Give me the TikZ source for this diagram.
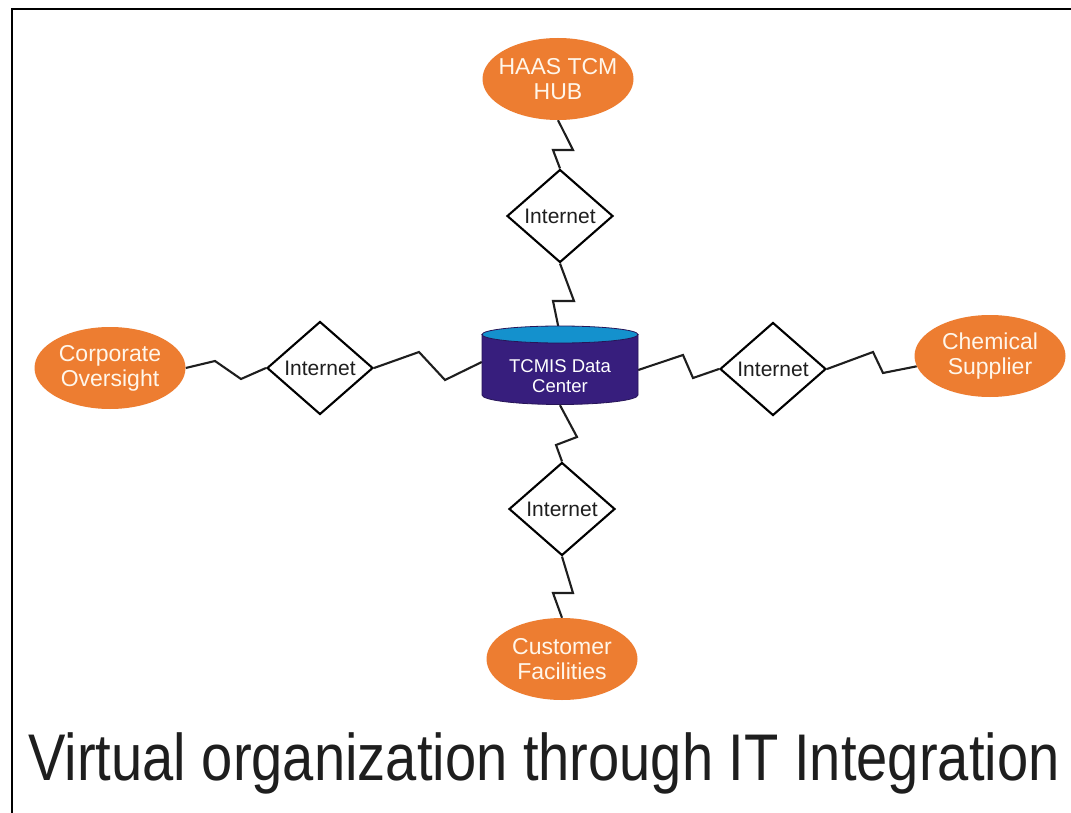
\documentclass[tikz,border=0pt]{standalone}
\usepackage{fontspec}
\setmainfont{Liberation Sans}
\usetikzlibrary{shapes.geometric}
\definecolor{orng}{RGB}{237,125,49}
\definecolor{cream}{RGB}{255,246,234}
\definecolor{dcbody}{RGB}{55,30,125}
\definecolor{dctop}{RGB}{20,145,205}
\definecolor{ink}{RGB}{30,30,30}
\pgfdeclarelayer{bg}
\pgfdeclarelayer{lines}
\pgfsetlayers{bg,lines,main}
\begin{document}
\begin{tikzpicture}[x=1pt,y=-1pt,
  site/.style={ellipse, fill=orng, minimum width=151pt, minimum height=82pt, inner sep=-12pt,
    text=cream, align=center, font=\fontsize{23}{25}\selectfont},
  net/.style={diamond, draw=black, line width=2.1pt, fill=white, minimum width=106pt,
    minimum height=93pt, inner sep=0pt, font=\fontsize{21}{24}\selectfont, text=ink},
  link/.style={line width=2.1pt, line join=miter, draw=ink},
  frame/.style={line width=2pt, draw=black}]
\begin{pgfonlayer}{bg}
\fill[white] (0,0) rectangle (1071,813);
\end{pgfonlayer}
\useasboundingbox (0,0) rectangle (1071,813);
\draw[frame] (11,9.5) -- (1071,9.5);
\draw[frame] (11.5,9) -- (11.5,813);

% sites
\node[site] (hub) at (558,79) {HAAS TCM\\HUB};
\node[site] (corp) at (110,368) {Corporate\\Oversight};
\node[site] (chem) at (990,356) {Chemical\\Supplier};
\node[site] (cust) at (562,659) {Customer\\Facilities};

% internet diamonds
\node[net] (dtop) at (560,216) {Internet};
\node[net] (dleft) at (320,368) {Internet};
\node[net] (dright) at (773,369) {Internet};
\node[net] (dbot) at (562,509) {Internet};

% data center cylinder
\path[fill=dcbody, draw=dcbody!70!black, line width=0.8pt]
  (482,334.5) -- (482,395) arc[start angle=180, end angle=0, x radius=78, y radius=9.5]
  -- (638,334.5) -- cycle;
\path[fill=dctop, draw=dcbody!70!black, line width=0.8pt] (560,334.5) ellipse [x radius=78, y radius=8.5];
\node[minimum width=156pt, minimum height=70pt, inner sep=0pt] (dc) at (560,370) {};
\node[inner sep=0pt, text=white, align=center, font=\fontsize{18.5}{20.5}\selectfont]
  (dctext) at (560,376) {TCMIS Data\\Center};

% connectors
\begin{pgfonlayer}{lines}
\draw[link] (hub.south) -- (573,150) -- (553,150) -- (dtop.north);
\draw[link] (dtop.south) -- (574,301) -- (553,301) -- (dc.north);
\draw[link] (corp.east) -- (215,361) -- (241,379) -- (dleft.west);
\draw[link] (dleft.east) -- (419,352) -- (445,380) -- ([yshift=8pt]dc.west);
\draw[link] (dc.east) -- (683,355) -- (693,378) -- (dright.west);
\draw[link] (dright.east) -- (873,352) -- (883,373) -- (chem.188);
\draw[link] (dc.south) -- (577,437) -- (556,445) -- (dbot.north);
\draw[link] (dbot.south) -- (573,593) -- (553,593) -- (cust.north);
\end{pgfonlayer}

% title
\node[anchor=base, text=ink] (title) at (544,780)
  {\scalebox{0.85}[1]{\fontsize{66}{70}\selectfont Virtual organization through IT Integration}};
\end{tikzpicture}
\end{document}
